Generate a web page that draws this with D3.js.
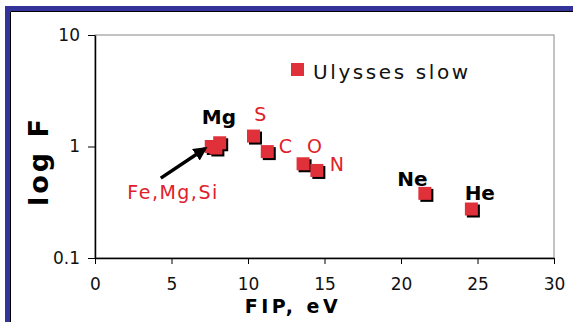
<!DOCTYPE html>
<html>
<head>
<meta charset="utf-8">
<script src="https://cdn.jsdelivr.net/npm/d3@7"></script>
<style>
  body{ margin: 0; background: #fff; }
  svg text{ font-family: "DejaVu Sans", Verdana, sans-serif; }
</style>
</head>
<body>
<svg id="chart" width="573" height="322"></svg>
<script>
var elements = [ "Mg", "Fe", "Si", "S", "C", "O", "N", "Ne", "He" ];
var fip_values = [ 7.6, 7.9, 8.15, 10.36, 11.26, 13.6, 14.5, 21.56, 24.6 ];
var abundance_values = [ 1.0, 0.97, 1.08, 1.24, 0.9, 0.7, 0.61, 0.38, 0.275 ];

var x_ticks = [ 0, 5, 10, 15, 20, 25, 30 ];
var y_ticks = [ 0.1, 1, 10 ];

var red_labels = [
  { text: "S", x: 10.85, y: 1.68 },
  { text: "C", x: 12.5, y: 0.88 },
  { text: "O", x: 14.4, y: 0.88 },
  { text: "N", x: 15.85, y: 0.6 },
  { text: "Fe,Mg,Si", x: 5.1, y: 0.335 }
];
var black_labels = [
  { text: "Mg", x: 8.1, y: 1.58 },
  { text: "Ne", x: 20.75, y: 0.438 },
  { text: "He", x: 25.15, y: 0.328 }
];

var MARGIN = { left: 95, top: 35, right: 19, bottom: 64 };
var width = 573, height = 322;

var svg = d3.select( "#chart" );

// frame of the slide
svg.append( "rect" ).attr( "x", 5 ).attr( "y", 6 ).attr( "width", width - 5 ).attr( "height", 5 ).attr( "fill", "#333399" );
svg.append( "rect" ).attr( "x", 5 ).attr( "y", 6 ).attr( "width", 5 ).attr( "height", height - 6 ).attr( "fill", "#333399" );
svg.append( "line" ).attr( "x1", 10.5 ).attr( "y1", 11.5 ).attr( "x2", width ).attr( "y2", 11.5 ).attr( "stroke", "black" );
svg.append( "line" ).attr( "x1", 10.5 ).attr( "y1", 11.5 ).attr( "x2", 10.5 ).attr( "y2", height ).attr( "stroke", "black" );

var x = d3.scaleLinear().domain( [ 0, 30 ] ).range( [ MARGIN.left, width - MARGIN.right ] );
var y = d3.scaleLog().domain( [ 0.1, 10 ] ).range( [ height - MARGIN.bottom, MARGIN.top ] );

// plot border
svg.append( "rect" )
  .attr( "x", x( 0 ) ).attr( "y", y( 10 ) )
  .attr( "width", x( 30 ) - x( 0 ) ).attr( "height", y( 0.1 ) - y( 10 ) )
  .attr( "fill", "none" ).attr( "stroke", "#888" );

var x_axis = svg.append( "g" )
  .attr( "transform", "translate(0," + y( 0.1 ) + ")" )
  .call( d3.axisBottom( x ).tickValues( x_ticks ).tickSize( 6 ).tickSizeOuter( 0 ).tickPadding( 14 ) );
var y_axis = svg.append( "g" )
  .attr( "transform", "translate(" + x( 0 ) + ",0)" )
  .call( d3.axisLeft( y ).tickValues( y_ticks ).tickFormat( d3.format( "" ) ).tickSize( 7 ).tickSizeOuter( 0 ).tickPadding( 8 ) );

[ x_axis, y_axis ].forEach( function( axis ){
  axis.select( ".domain" ).attr( "stroke", "black" ).attr( "stroke-width", 1.5 );
  axis.selectAll( ".tick line" ).attr( "stroke", "black" );
  axis.selectAll( ".tick text" ).attr( "font-size", 17 ).attr( "fill", "#111" ).style( "font-family", "'DejaVu Sans', Verdana, sans-serif" );
} );

// axis titles
svg.append( "text" )
  .attr( "x", 293 ).attr( "y", 313 )
  .attr( "text-anchor", "middle" )
  .attr( "font-size", 19 ).attr( "font-weight", "bold" )
  .attr( "letter-spacing", 3.5 )
  .text( "FIP, eV" );
svg.append( "text" )
  .attr( "transform", "translate(48,161) rotate(-90)" )
  .attr( "text-anchor", "middle" )
  .attr( "font-size", 27 ).attr( "font-weight", "bold" )
  .attr( "letter-spacing", 3 )
  .text( "log F" );

// markers with shadow
var marker_size = 13;
var marker_data = fip_values.map( function( v, i ){ return { x: v, y: abundance_values[ i ], name: elements[ i ] }; } );

svg.append( "g" ).selectAll( "rect" )
  .data( marker_data ).enter()
  .append( "rect" )
  .attr( "x", function( d ){ return x( d.x ) - marker_size / 2 + 2; } )
  .attr( "y", function( d ){ return y( d.y ) - marker_size / 2 + 2; } )
  .attr( "width", marker_size ).attr( "height", marker_size )
  .attr( "fill", "black" );
svg.append( "g" ).selectAll( "rect" )
  .data( marker_data ).enter()
  .append( "rect" )
  .attr( "x", function( d ){ return x( d.x ) - marker_size / 2; } )
  .attr( "y", function( d ){ return y( d.y ) - marker_size / 2; } )
  .attr( "width", marker_size ).attr( "height", marker_size )
  .attr( "fill", "#e0303a" );

// labels
svg.append( "g" ).selectAll( "text" )
  .data( red_labels ).enter()
  .append( "text" )
  .attr( "x", function( d ){ return x( d.x ); } )
  .attr( "y", function( d ){ return y( d.y ); } )
  .attr( "text-anchor", "middle" )
  .attr( "font-size", 19 ).attr( "fill", "#e0202a" )
  .attr( "letter-spacing", 1.5 )
  .text( function( d ){ return d.text; } );
svg.append( "g" ).selectAll( "text" )
  .data( black_labels ).enter()
  .append( "text" )
  .attr( "x", function( d ){ return x( d.x ); } )
  .attr( "y", function( d ){ return y( d.y ); } )
  .attr( "text-anchor", "middle" )
  .attr( "font-size", 20 ).attr( "font-weight", "bold" ).attr( "fill", "black" )
  .text( function( d ){ return d.text; } );

// arrow to Fe,Mg,Si
svg.append( "defs" ).append( "marker" )
  .attr( "id", "arrow" ).attr( "viewBox", "0 0 10 10" )
  .attr( "refX", 8 ).attr( "refY", 5 )
  .attr( "markerWidth", 4 ).attr( "markerHeight", 4 )
  .attr( "orient", "auto" )
  .append( "path" ).attr( "d", "M0,0L10,5L0,10z" ).attr( "fill", "black" );
svg.append( "line" )
  .attr( "x1", x( 4.3 ) ).attr( "y1", y( 0.52 ) )
  .attr( "x2", x( 7.2 ) ).attr( "y2", y( 0.96 ) )
  .attr( "stroke", "black" ).attr( "stroke-width", 3.5 )
  .attr( "marker-end", "url(#arrow)" );

// legend
svg.append( "rect" )
  .attr( "x", 291 ).attr( "y", 63 ).attr( "width", 13 ).attr( "height", 13 )
  .attr( "fill", "#e0303a" );
svg.append( "text" )
  .attr( "x", 313 ).attr( "y", 79 )
  .attr( "font-size", 20 ).attr( "fill", "#111" )
  .attr( "letter-spacing", 2.6 )
  .text( "Ulysses slow" );
</script>
</body>
</html>
